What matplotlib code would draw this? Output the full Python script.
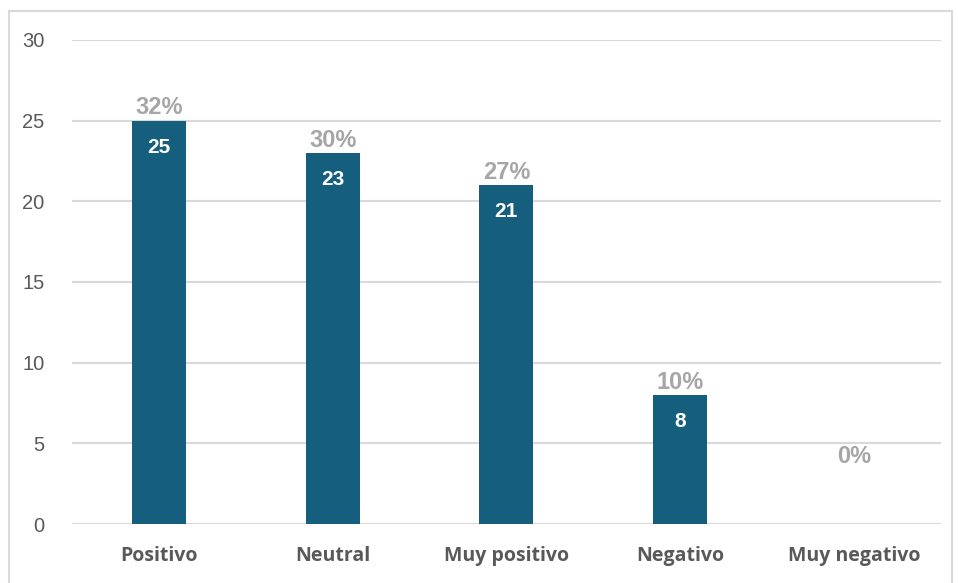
import matplotlib.pyplot as plt
from matplotlib.patches import Rectangle

categories = ['Positivo', 'Neutral', 'Muy positivo', 'Negativo', 'Muy negativo']
counts = [25, 23, 21, 8, 0]
pct_labels = ['32%', '30%', '27%', '10%', '0%']
yticks = [0, 5, 10, 15, 20, 25, 30]

bar_color = '#165E7E'
grid_color = '#D9D9D9'
text_gray = '#595959'
pct_gray = '#A6A6A6'

fig = plt.figure(figsize=(9.58, 5.83), dpi=100)
ax = fig.add_axes([0.0752, 0.1012, 0.9068, 0.8302])

# outer frame like the Excel chart area
fig.patches.append(Rectangle((9 / 958, -0.05), (952 - 9) / 958, 1.05 - 11 / 583,
                             transform=fig.transFigure, fill=False,
                             edgecolor=grid_color, lw=1.5))

x = range(len(categories))
bars = ax.bar(x, counts, width=0.31, color=bar_color, zorder=3)

ax.set_ylim(0, 30)
ax.set_xlim(-0.5, len(categories) - 0.5)
ax.set_yticks(yticks)
ax.yaxis.grid(True, color=grid_color, lw=1.5, zorder=0)
ax.set_axisbelow(True)
for s in ax.spines.values():
    s.set_visible(False)
ax.tick_params(axis='y', length=0, pad=20, labelsize=14.5, labelcolor=text_gray)
ax.tick_params(axis='x', length=0, pad=16)
for lbl in ax.get_yticklabels():
    lbl.set_fontfamily('Liberation Sans')
ax.set_xticks(list(x))
ax.set_xticklabels(categories, fontsize=14, fontweight='bold', color=text_gray,
                   family='Open Sans')

for b, v, p in zip(bars, counts, pct_labels):
    cx = b.get_x() + b.get_width() / 2
    off = 40 if v == 0 else 1
    ax.annotate(p, (cx, v), xytext=(0, off), textcoords='offset points',
                ha='center', va='bottom', fontsize=17, fontweight='semibold',
                color=pct_gray, family='Liberation Sans')
    if v > 0:
        ax.annotate(str(v), (cx, v), xytext=(0, -19), textcoords='offset points',
                    ha='center', va='center', fontsize=15, fontweight='bold',
                    color='white', family='Liberation Sans')

fig.savefig('out.png', dpi=100)
